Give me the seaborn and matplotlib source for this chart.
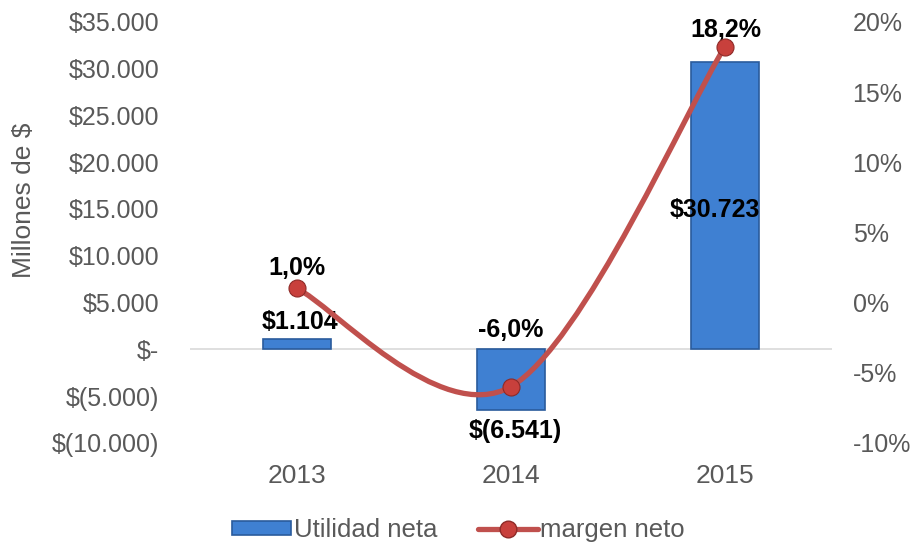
import numpy as np
import pandas as pd
import matplotlib
matplotlib.use("Agg")
import matplotlib.pyplot as plt
from matplotlib.path import Path
from matplotlib.patches import PathPatch, Patch
from matplotlib.lines import Line2D
import seaborn as sns

# -----------------------------
# Data
# -----------------------------
years = ["2013", "2014", "2015"]
utilidad = [1104, -6541, 30723]          # millones de $
margen = [1.0, -6.0, 18.2]               # %

utilidad_labels = ["$1.104", "$(6.541)", "$30.723"]
margen_labels = ["1,0%", "-6,0%", "18,2%"]

left_ticks = [35000, 30000, 25000, 20000, 15000, 10000, 5000, 0, -5000, -10000]
left_tick_labels = ["$35.000", "$30.000", "$25.000", "$20.000", "$15.000",
                    "$10.000", "$5.000", "$-", "$(5.000)", "$(10.000)"]
right_ticks = [20, 15, 10, 5, 0, -5, -10]
right_tick_labels = ["20%", "15%", "10%", "5%", "0%", "-5%", "-10%"]

df = pd.DataFrame({"year": years, "utilidad": utilidad, "margen": margen})

# -----------------------------
# Style
# -----------------------------
sns.set_style("white")
plt.rcParams["font.family"] = ["Liberation Sans", "DejaVu Sans"]

gray = "#595959"
bar_color = "#3F80D2"
bar_edge = "#2A5B9C"
line_color = "#C0504D"

fig = plt.figure(figsize=(9.17, 5.46), dpi=100)
ax = fig.add_axes([0.207, 0.189, 0.700, 0.771])

# zero line
ax.axhline(0, color="#D9D9D9", lw=1.2, zorder=0)

sns.barplot(data=df, x="year", y="utilidad", ax=ax, width=0.32,
            color=bar_color, edgecolor=bar_edge, linewidth=1.2,
            saturation=1, zorder=2)

ax.set_ylim(-10000, 35000)
ax.set_xlim(-0.5, 2.5)
ax.set_yticks(left_ticks)
ax.set_yticklabels(left_tick_labels)
ax.tick_params(axis="y", colors=gray, labelsize=18, length=0, pad=22)
ax.tick_params(axis="x", colors=gray, labelsize=19, length=0, pad=15)
ax.set_xlabel("")
ax.set_ylabel("Millones de $", color=gray, fontsize=19)
ax.yaxis.set_label_coords(-0.24, 0.575)
for s in ax.spines.values():
    s.set_visible(False)

# -----------------------------
# Secondary axis: smoothed line
# -----------------------------
ax2 = ax.twinx()
ax2.set_ylim(-10, 20)
ax2.set_yticks(right_ticks)
ax2.set_yticklabels(right_tick_labels)
ax2.tick_params(axis="y", colors=gray, labelsize=18, length=0, pad=15)
for s in ax2.spines.values():
    s.set_visible(False)

xs = np.arange(len(margen), dtype=float)
pts = np.column_stack([xs, margen])
verts = [tuple(pts[0])]
codes = [Path.MOVETO]
n = len(pts)
for i in range(n - 1):
    p_prev = pts[max(i - 1, 0)]
    p0, p1 = pts[i], pts[i + 1]
    p_next = pts[min(i + 2, n - 1)]
    c1 = p0 + (p1 - p_prev) / 6
    c2 = p1 - (p_next - p0) / 6
    verts += [tuple(c1), tuple(c2), tuple(p1)]
    codes += [Path.CURVE4] * 3
ax2.add_patch(PathPatch(Path(verts, codes), fill=False, edgecolor=line_color,
                        lw=3.8, capstyle="round", zorder=3))

sns.scatterplot(x=xs, y=margen, ax=ax2, s=150, color="#C8403C",
                edgecolor="#8E2A27", linewidth=0.8, zorder=4, legend=False)

# -----------------------------
# Data labels
# -----------------------------
lab = dict(fontsize=18, fontweight="bold", color="black",
           ha="center", va="center", textcoords="offset points")
ax.annotate(utilidad_labels[0], (0, utilidad[0]), xytext=(2, 12), **lab)
ax.annotate(utilidad_labels[1], (1, utilidad[1]), xytext=(3, -15), **lab)
ax.annotate(utilidad_labels[2], (2, utilidad[2] / 2), xytext=(-7, -3), **lab)
ax.annotate(margen_labels[1], (1, 0), xytext=(0, 14), **lab)

ax2.annotate(margen_labels[0], (0, margen[0]), xytext=(0, 15), **lab)
ax2.annotate(margen_labels[2], (2, margen[2]), xytext=(1, 12), **lab)

# -----------------------------
# Legend
# -----------------------------
handles = [
    Patch(facecolor=bar_color, edgecolor=bar_edge, linewidth=1.2),
    Line2D([0], [0], color=line_color, lw=3.8, marker="o", markersize=12,
           markerfacecolor="#C8403C", markeredgecolor="#8E2A27"),
]
fig.legend(handles, ["Utilidad neta", "margen neto"], loc="lower center",
           bbox_to_anchor=(0.5, -0.035), ncol=2, frameon=False, fontsize=18.5,
           labelcolor=gray, handlelength=2.3, handletextpad=0.1,
           columnspacing=1.6, handleheight=0.5)

fig.savefig("out.png", dpi=100)
